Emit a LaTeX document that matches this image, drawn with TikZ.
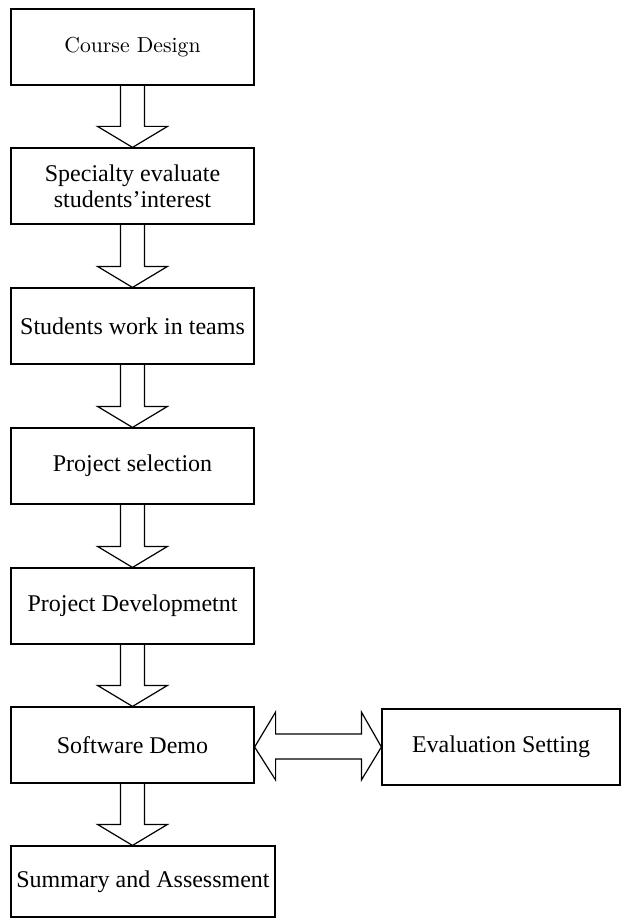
\documentclass[tikz,border=0pt]{standalone}
\usepackage{fontspec}
\newfontfamily\tnr{Liberation Serif}
\newfontfamily\cmten{lmroman10-regular.otf}
\usetikzlibrary{calc}
\begin{document}
\begin{tikzpicture}[x=1pt,y=-1pt,
  stagebox/.style={draw,line width=1.2,rectangle,inner sep=0pt,
    minimum width=243,minimum height=76,align=center,
    font=\tnr\fontsize{24}{26}\selectfont},
  blockarrow/.style={draw,line width=1.2,line join=miter}]
\useasboundingbox (0,0) rectangle (621,920);

% process stages
\node[stagebox,font=\cmten\fontsize{21.7}{26}\selectfont] (design) at (132.5,47) {Course Design};
\node[stagebox] (interest) at (132.5,186) {Specialty evaluate\\students’interest};
\node[stagebox] (teams) at (132.5,326) {Students work in teams};
\node[stagebox] (select) at (132.5,466) {Project selection};
\node[stagebox] (develop) at (132.5,606) {Project Developmetnt};
\node[stagebox] (demo) at (132.5,745) {Software Demo};
\node[stagebox,minimum width=264,minimum height=71] (summary) at (143,881.5) {Summary and Assessment};
\node[stagebox,minimum width=238] (evalset) at (501,747) {Evaluation Setting};

% hollow downward block arrows
\foreach \a/\b in {design/interest,interest/teams,teams/select,select/develop,develop/demo,demo/summary}{
  \coordinate (tip) at (\a.south |- \b.north);
  \draw[blockarrow] ($(\a.south)+(-12,0)$) -- ($(tip)+(-12,-21)$) -- ($(tip)+(-35,-21)$)
    -- (tip) -- ($(tip)+(35,-21)$) -- ($(tip)+(12,-21)$) -- ($(\a.south)+(12,0)$);
}

% hollow double-headed arrow between demo and evaluation setting
\coordinate (ltip) at (demo.east |- evalset.west);
\coordinate (rtip) at (evalset.west);
\draw[blockarrow] (ltip) -- ($(ltip)+(21,-35)$) -- ($(ltip)+(21,-13)$) -- ($(rtip)+(-20,-13)$)
  -- ($(rtip)+(-20,-35)$) -- (rtip) -- ($(rtip)+(-20,33)$) -- ($(rtip)+(-20,12)$)
  -- ($(ltip)+(21,12)$) -- ($(ltip)+(21,33)$) -- cycle;
\end{tikzpicture}
\end{document}
